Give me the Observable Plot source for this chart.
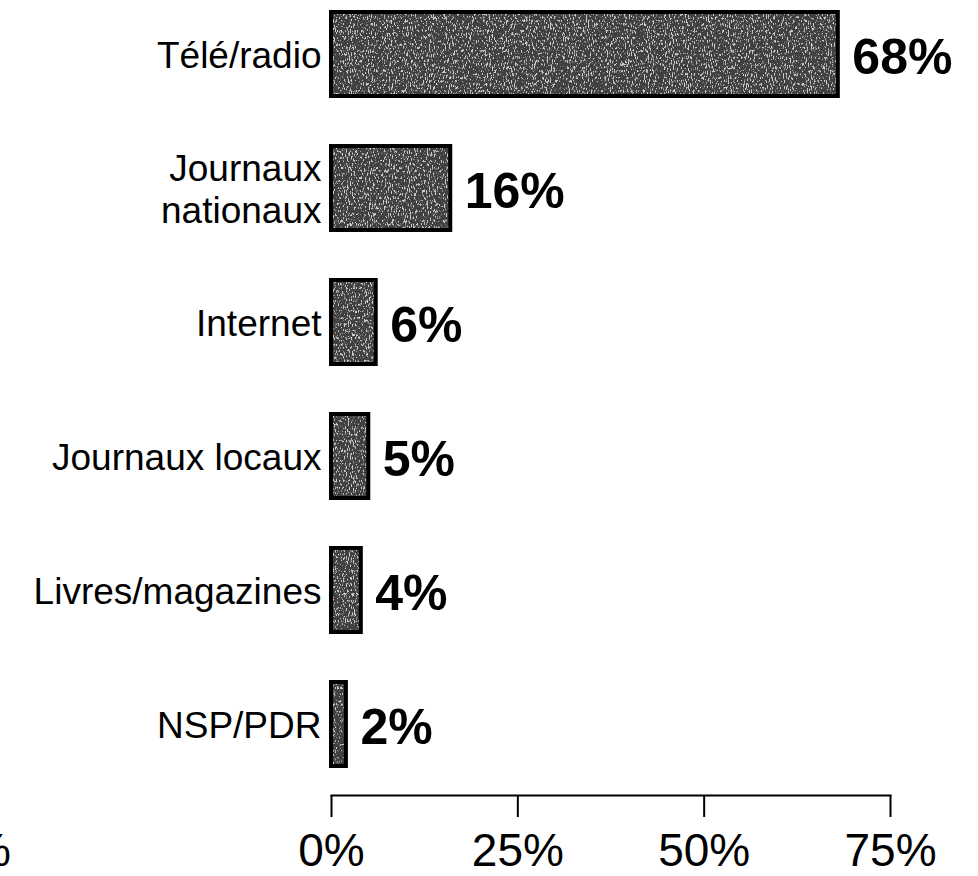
<!DOCTYPE html>
<html>
<head>
<meta charset="utf-8">
<script src="https://cdn.jsdelivr.net/npm/d3@7"></script>
<script src="https://cdn.jsdelivr.net/npm/@observablehq/plot@0.6"></script>
<style>
  html, body { margin: 0; padding: 0; background: #fff; }
  #chart svg { display: block; font-family: "Liberation Sans", Arial, sans-serif; }
</style>
</head>
<body>
<div id="chart"></div>
<script>
const categories = ["Télé/radio", "Journaux nationaux", "Internet", "Journaux locaux", "Livres/magazines", "NSP/PDR"];
const labels = ["Télé/radio", "Journaux\nnationaux", "Internet", "Journaux locaux", "Livres/magazines", "NSP/PDR"];
const values = [68, 16, 6, 5, 4, 2];
const tickValues = [0, 25, 50, 75];

const data = categories.map((c, i) => ({cat: c, label: labels[i], value: values[i]}));

const plot = Plot.plot({
  width: 978,
  height: 876,
  marginLeft: 331,
  marginRight: 88,
  marginTop: 10,
  marginBottom: 81,
  style: {fontFamily: "'Liberation Sans', Arial, sans-serif", background: "#fff", overflow: "hidden"},
  x: {domain: [0, 75], axis: null},
  y: {domain: categories, range: [10, 768], paddingInner: 0.37, paddingOuter: 0, axis: null},
  marks: [
    Plot.barX(data, {x: "value", y: "cat", fill: "#404040"}),
    Plot.barX(data, {x: "value", y: "cat", fill: "none", stroke: "#000", strokeWidth: 4}),
    Plot.text(data, {x: 0, y: "cat", text: "label", textAnchor: "end", dx: -10, fontSize: 37, lineHeight: 1.15, fill: "#000"}),
    Plot.text(data, {x: "value", y: "cat", text: d => d.value + "%", textAnchor: "start", dx: 14, dy: 3, fontSize: 50, fontWeight: "bold", fill: "#000"}),
    Plot.frame({anchor: "bottom", stroke: "#000", strokeWidth: 2}),
    Plot.axisX({ticks: tickValues, tickFormat: d => d + "%", tickSize: 22, tickPadding: 16, fontSize: 46, strokeWidth: 2, stroke: "#000", fill: "#000", label: null}),
    Plot.text(["%"], {x: -43, frameAnchor: "bottom", textAnchor: "end", lineAnchor: "bottom", dy: 70, fontSize: 46, fill: "#000"})
  ]
});

const svg = d3.select(plot);
const defs = svg.insert("defs", ":first-child");
const f = defs.append("filter").attr("id", "grain")
  .attr("filterUnits", "userSpaceOnUse")
  .attr("x", 0).attr("y", 0).attr("width", 978).attr("height", 876)
  .attr("color-interpolation-filters", "sRGB");
f.append("feTurbulence").attr("type", "fractalNoise").attr("baseFrequency", "0.95 0.3").attr("numOctaves", 3).attr("seed", 7).attr("result", "noise");
f.append("feColorMatrix").attr("in", "noise").attr("type", "matrix")
  .attr("values", "0 0 0 0 0.8  0 0 0 0 0.8  0 0 0 0 0.8  9 0 0 0 -5.0").attr("result", "spk");
f.append("feComposite").attr("in", "spk").attr("in2", "SourceGraphic").attr("operator", "in").attr("result", "spkIn");
const m = f.append("feMerge");
m.append("feMergeNode").attr("in", "SourceGraphic");
m.append("feMergeNode").attr("in", "spkIn");
svg.select('g[aria-label="bar"]').attr("filter", "url(#grain)");

document.getElementById("chart").appendChild(plot);
</script>
</body>
</html>
